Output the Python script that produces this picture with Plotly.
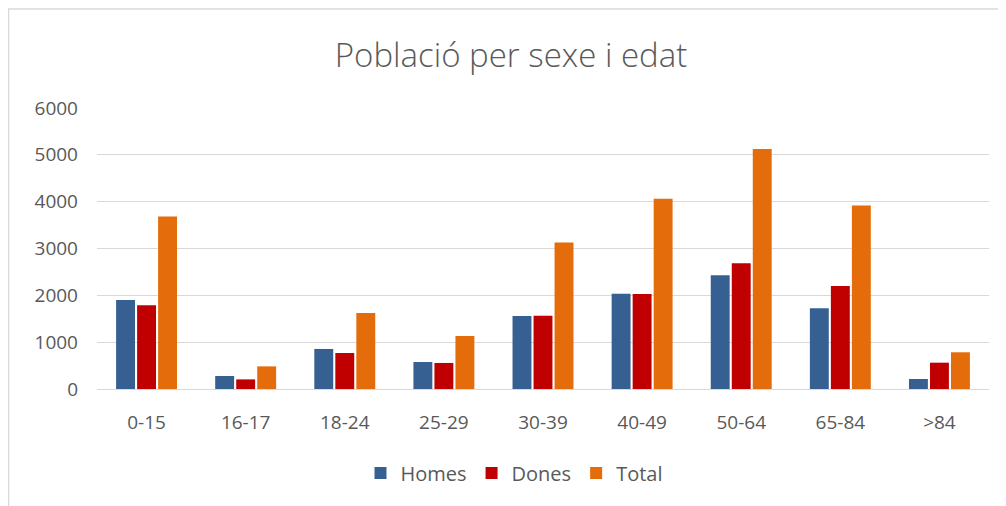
import plotly.graph_objects as go

categories = ["0-15", "16-17", "18-24", "25-29", "30-39", "40-49", "50-64", "65-84", ">84"]
homes = [1902, 278, 855, 577, 1560, 2036, 2430, 1724, 214]
dones = [1786, 205, 769, 556, 1566, 2030, 2686, 2201, 562]
total = [3682, 483, 1624, 1132, 3126, 4060, 5122, 3917, 784]
y_ticks = [0, 1000, 2000, 3000, 4000, 5000, 6000]

# figure is rendered with an 8px page margin: figure coords = screen - 8
W, H = 1006, 506
L, T = 89, 100
R = W - 981
B = H - 381
pw, ph = W - L - R, H - T - B

def px_x(p):
    return (p - L) / pw

def px_y(p):
    return (H - B - p) / ph

text_color = "#595959"
font_family = "'Open Sans', sans-serif"

fig = go.Figure()
for name, vals, col in [("Homes", homes, "#376092"), ("Dones", dones, "#C00000"), ("Total", total, "#E46C0A")]:
    fig.add_trace(go.Bar(x=categories, y=vals, name=name, marker=dict(color=col, line=dict(width=0))))

fig.update_layout(
    width=W, height=H,
    margin=dict(l=L, r=R, t=T, b=B),
    paper_bgcolor="white", plot_bgcolor="white",
    barmode="group", bargap=0.364, bargroupgap=0.1,
    title=dict(text="Població per sexe i edat", x=0.5, xanchor="center",
               y=1 - 47 / H, yanchor="middle",
               font=dict(family=font_family, size=33, color=text_color, weight=300)),
    font=dict(family=font_family, color=text_color, size=19),
    showlegend=True,
    legend=dict(orientation="h", x=0.5 - 29 / pw, xanchor="center", y=px_y(465), yanchor="middle",
                font=dict(size=20, color=text_color), itemwidth=30, traceorder="normal"),
    xaxis=dict(showgrid=False, showline=True, linecolor="#D9D9D9", linewidth=1,
               ticks="", tickfont=dict(size=19, color=text_color), ticklabelstandoff=16),
    yaxis=dict(range=[0, 6000], tickvals=y_ticks, showgrid=True, gridcolor="#D9D9D9",
               gridwidth=1, zeroline=False, showline=False, ticks="",
               tickfont=dict(size=19, color=text_color), ticklabelstandoff=18),
    shapes=[
        dict(type="rect", xref="paper", yref="paper", x0=px_x(0.5), x1=px_x(1005.5),
             y0=px_y(1), y1=px_y(505.5), line=dict(color="#D9D9D9", width=1.5)),
    ],
)

fig.write_html("out.html")
